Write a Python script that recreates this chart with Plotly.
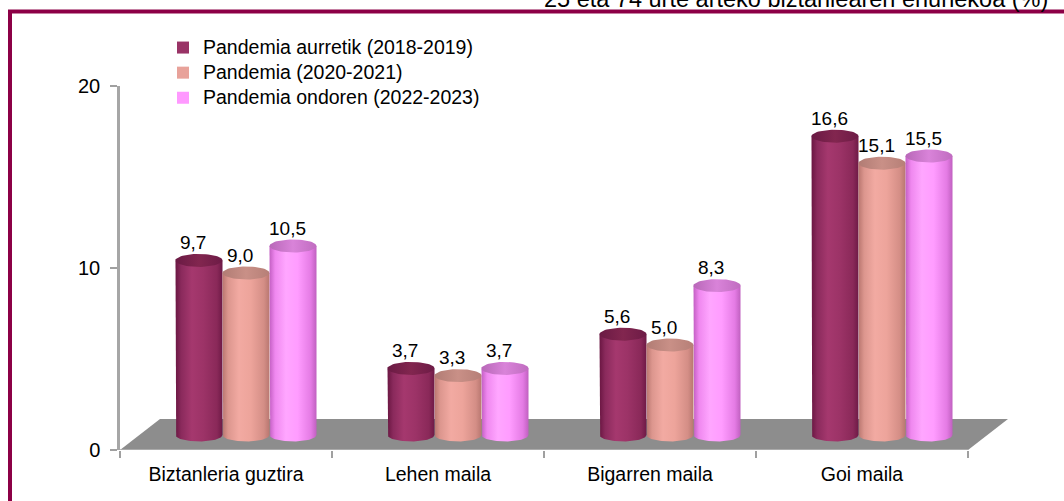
import numpy as np
import plotly.graph_objects as go

# ---------------- data ----------------
categories = ["Biztanleria guztira", "Lehen maila", "Bigarren maila", "Goi maila"]
series_names = ["Pandemia aurretik (2018-2019)", "Pandemia (2020-2021)", "Pandemia ondoren (2022-2023)"]
pre_pandemic = [9.7, 3.7, 5.6, 16.6]
pandemic = [9.0, 3.3, 5.0, 15.1]
post_pandemic = [10.5, 3.7, 8.3, 15.5]
y_tick_values = [0, 10, 20]
title_text = "25 eta 74 urte arteko biztanlearen ehunekoa (%)"

series_values = [pre_pandemic, pandemic, post_pandemic]

# ---------------- style ----------------
FONT = "Liberation Sans, Arial, sans-serif"
W, H = 1064, 501
PL, PR, PT, PB = 120, 1010, 86, 450          # plot area in pixels
PX_X = 212.0                                   # pixels per category
BAR_PX_Y = 18.0                                # pixels per unit for the 3D bars
BAR_BASE_PX = 435.0                            # pixel row of bar base
AX_PX_Y = (PB - PT) / 20.0

legend_colors = ["#993366", "#E8A29A", "#FF99FF"]
body_scales = [
    [[0, "#6a1642"], [0.12, "#8a2a5c"], [0.35, "#a5386e"], [0.6, "#9c3367"], [0.88, "#8a2959"], [1, "#6e1a46"]],
    [[0, "#b9766f"], [0.12, "#dc968e"], [0.35, "#f2aaa2"], [0.6, "#eda49b"], [0.88, "#d48e86"], [1, "#b87770"]],
    [[0, "#c35fc3"], [0.12, "#ef88ef"], [0.35, "#ffa6ff"], [0.6, "#ff9cff"], [0.88, "#e47be4"], [1, "#c060c0"]],
]
top_scales = [
    [[0, "#6a1a44"], [0.5, "#82264f"], [1, "#6d1b46"]],
    [[0, "#b17c74"], [0.5, "#c99087"], [1, "#b67f77"]],
    [[0, "#b868b8"], [0.5, "#d983d9"], [1, "#c06cc0"]],
]

bar_w = 47.0 / PX_X
group_shift = 20.0 / PX_X
series_shift = [-47.0 / PX_X, 0.0, 47.0 / PX_X]
ell_b = 6.5 / BAR_PX_Y

x_range = [-0.5, -0.5 + (PR - PL) / PX_X]
y2_range = [-(PB - BAR_BASE_PX) / BAR_PX_Y, (BAR_BASE_PX - PT) / BAR_PX_Y]


def px_to_paper_x(px):
    return (px - PL) / (PR - PL)


def px_to_paper_y(py):
    return (PB - py) / (PB - PT)


fig = go.Figure()

t_bottom = np.linspace(np.pi, 2 * np.pi, 40)
t_full = np.linspace(0, 2 * np.pi, 60)
annotations = []

for s, vals in enumerate(series_values):
    for c, v in enumerate(vals):
        xc = c + group_shift + series_shift[s]
        x0, x1 = xc - bar_w / 2, xc + bar_w / 2
        r = bar_w / 2
        # body with rounded bottom
        bx = [x0, x0] + list(xc + r * np.cos(t_bottom)) + [x1, x1, x0]
        by = [v, 0] + list(0 + ell_b * np.sin(t_bottom)) + [0, v, v]
        fig.add_trace(go.Scatter(
            x=bx, y=by, yaxis="y2", mode="lines", fill="toself",
            line=dict(width=0, color=legend_colors[s]),
            fillgradient=dict(type="horizontal", colorscale=body_scales[s], start=x0, stop=x1),
            showlegend=False, hoverinfo="skip",
        ))
        # top ellipse
        tx = list(xc + r * np.cos(t_full))
        ty = list(v + ell_b * np.sin(t_full))
        fig.add_trace(go.Scatter(
            x=tx, y=ty, yaxis="y2", mode="lines", fill="toself",
            line=dict(width=0, color=legend_colors[s]),
            fillgradient=dict(type="horizontal", colorscale=top_scales[s], start=x0, stop=x1),
            showlegend=False, hoverinfo="skip",
        ))
        annotations.append(dict(
            x=xc, y=v, xref="x", yref="y2", text=f"{v:.1f}".replace(".", ","),
            showarrow=False, yanchor="middle", xanchor="center", yshift=18, xshift=-6,
            font=dict(family=FONT, size=19, color="#000000"),
        ))

# legend entries (text drawn at 19.5px, row pitch driven by the 17px legend font)
for s, name in enumerate(series_names):
    fig.add_trace(go.Bar(x=[None], y=[None],
                         name=f"<span style='font-size:19.5px'>{name}</span>",
                         marker=dict(color=legend_colors[s]), hoverinfo="skip"))

# floor (3D base) and frame
depth_x = 40.0 / PX_X
depth_y = 31.0 / AX_PX_Y
floor_path = (f"M {-0.5},0 L {3.5},0 L {3.5 + depth_x},{depth_y} "
              f"L {-0.5 + depth_x},{depth_y} Z")
shapes = [
    dict(type="path", path=floor_path, xref="x", yref="y", fillcolor="#8d8d8d",
         line=dict(width=0), layer="below"),
    dict(type="line", x0=-0.5, x1=3.5, y0=0, y1=0, xref="x", yref="y",
         line=dict(color="#b5b5b5", width=1.5), layer="below"),
    # maroon frame (top + left)
    dict(type="line", xref="paper", yref="paper",
         x0=px_to_paper_x(8), x1=px_to_paper_x(1070), y0=px_to_paper_y(11.5), y1=px_to_paper_y(11.5),
         line=dict(color="#8C0046", width=4)),
    dict(type="line", xref="paper", yref="paper",
         x0=px_to_paper_x(10), x1=px_to_paper_x(10), y0=px_to_paper_y(10), y1=px_to_paper_y(510),
         line=dict(color="#8C0046", width=4)),
]

annotations.append(dict(
    x=px_to_paper_x(1050), y=px_to_paper_y(-1), xref="paper", yref="paper",
    text=title_text, showarrow=False, xanchor="right", yanchor="middle",
    font=dict(family=FONT, size=23.5, color="#000000"),
))

fig.update_layout(
    template="none",
    width=W, height=H,
    margin=dict(l=PL, r=W - PR, t=PT, b=H - PB, autoexpand=False),
    paper_bgcolor="white", plot_bgcolor="rgba(0,0,0,0)",
    font=dict(family=FONT, size=19.5, color="#000000"),
    showlegend=True,
    legend=dict(
        x=px_to_paper_x(163), y=px_to_paper_y(30), xanchor="left", yanchor="top",
        bgcolor="rgba(0,0,0,0)", borderwidth=0, tracegroupgap=0,
        font=dict(family=FONT, size=17, color="#000000"),
    ),
    xaxis=dict(
        range=x_range, tickmode="array", tickvals=list(range(len(categories))), ticktext=categories,
        ticks="", showgrid=False, zeroline=False, showline=False, ticklabelstandoff=10,
        minor=dict(tickmode="array", tickvals=[i - 0.5 for i in range(len(categories) + 1)],
                   ticks="outside", ticklen=7, tickwidth=2, tickcolor="#a0a0a0", showgrid=False),
        tickfont=dict(family=FONT, size=19.5),
    ),
    yaxis=dict(
        range=[0, 20], tickmode="array", tickvals=y_tick_values, ticktext=[str(v) for v in y_tick_values],
        ticks="outside", ticklen=7, tickwidth=2, tickcolor="#a0a0a0",
        showline=True, linecolor="#a6a6a6", linewidth=2.5, showgrid=False, zeroline=False,
        ticklabelstandoff=6, tickfont=dict(family=FONT, size=20),
    ),
    yaxis2=dict(range=y2_range, overlaying="y", visible=False, showgrid=False, zeroline=False),
    shapes=shapes,
    annotations=annotations,
    hovermode=False,
)

fig.write_html(
    "out.html",
    config={"displayModeBar": False},
    post_script="document.body.style.margin='0';document.body.style.padding='0';"
                "document.body.style.overflow='hidden';",
)
